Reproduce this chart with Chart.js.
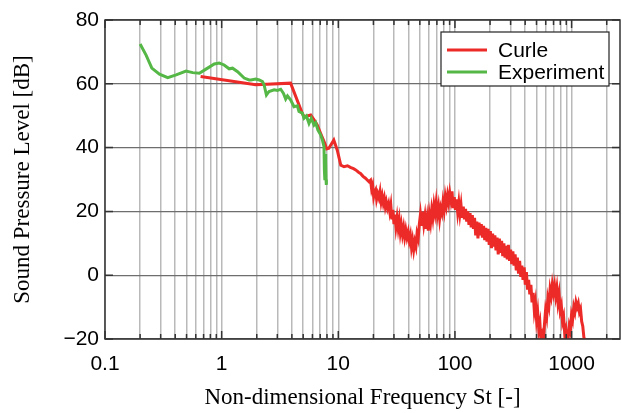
<!DOCTYPE html>
<html>
<head>
<meta charset="utf-8">
<script src="https://cdn.jsdelivr.net/npm/chart.js@4.4.1/dist/chart.umd.min.js"></script>
<style>
  html, body { margin: 0; padding: 0; background: #fff; }
</style>
</head>
<body>
<canvas id="spl" width="622" height="413"></canvas>
<script>
// Curle prediction (St, dB); the noisy part is read as top/bottom of the band
const curleSt = [0.66, 1.96, 3.9, 4.9, 5.1, 5.8, 6.2, 6.6, 7.05, 7.55, 7.95, 8.3, 9.15, 9.8, 10.5, 11.2, 12.0, 12.7,
  13.5, 14.1, 15.0, 15.5, 16.3, 17.1, 18.3, 18.9, 19.3, 19.7, 20.1, 20.5, 20.9, 21.3, 21.8, 22.3, 22.8, 23.3, 23.8,
  24.3, 24.8, 25.3, 25.8, 26.4, 27.0, 27.6, 28.2, 28.8, 29.4, 30.0, 30.6, 31.2, 31.9, 32.6, 33.3, 34.0, 34.7, 35.5,
  36.3, 37.1, 37.9, 38.8, 39.7, 40.6, 41.5, 42.4, 43.3, 44.3, 45.3, 46.3, 47.3, 48.4, 49.5, 50.6, 51.7, 52.9, 54.1,
  55.3, 56.5, 57.8, 59.1, 60.4, 61.8, 63.2, 64.6, 66.1, 67.6, 69.1, 70.7, 72.3, 73.9, 75.6, 77.3, 79.0, 80.8, 82.6,
  84.5, 86.4, 88.3, 90.3, 92.3, 94.4, 96.5, 98.7, 100.9, 103.2, 105.5, 107.9, 110.3, 112.8, 115.3, 117.9, 120.6,
  123.3, 126.1, 128.9, 131.8, 134.8, 137.8, 140.9, 144.1, 147.3, 150.6, 154.0, 157.5, 161.0, 164.6, 168.3, 172.1,
  176.0, 180.0, 184.0, 188.2, 192.4, 196.7, 201.1, 205.7, 210.3, 215.0, 219.9, 224.8, 229.9, 235.0, 240.3, 245.7,
  251.3, 256.9, 262.7, 268.6, 274.6, 280.8, 287.1, 293.6, 300.2, 306.9, 313.8, 320.9, 328.1, 335.5, 343.0, 350.7,
  358.6, 366.7, 374.9, 383.3, 392.0, 400.8, 409.8, 419.0, 428.4, 438.1, 447.9, 458.0, 468.3, 478.8, 489.6, 500.6,
  511.8, 523.4, 535.1, 547.2, 559.5, 572.0, 585.0, 598.1, 611.6, 625.3, 639.4, 653.8, 668.5, 683.5, 698.9, 714.6,
  730.7, 747.2, 764.0, 781.2, 798.8, 816.8, 835.2, 854.0, 873.2, 892.8, 913.0, 933.5, 954.6, 976.0, 998.0, 1020,
  1044, 1067, 1091, 1116, 1141, 1167, 1193, 1220, 1247, 1275, 1300];
const curleDb = [62.3, 59.7, 60.2, 50.8, 49.7, 50.2, 48.7, 47.1, 44.5, 41.9, 39.6, 39.8, 42.4, 39.2, 34.5, 34.0, 34.3, 33.8,
  33.4, 33.0, 32.2, 31.9, 31.0, 30.4, 29.3, 29.8, 27.0, 28.2, 24.6, 26.0, 26.7, 23.8, 25.5, 24.2, 26.2, 23.0, 24.8,
  22.6, 24.1, 21.5, 23.0, 21.0, 22.4, 19.9, 22.0, 17.5, 20.5, 16.0, 19.0, 15.2, 18.0, 14.8, 17.3, 13.5, 15.8, 12.8,
  15.0, 12.0, 14.2, 11.8, 13.5, 10.8, 12.5, 8.8, 11.0, 8.0, 10.5, 9.0, 13.0, 11.5, 16.0, 19.0, 15.5, 19.9, 16.0,
  18.5, 14.5, 17.8, 14.0, 19.0, 16.5, 20.5, 18.0, 22.0, 19.5, 22.8, 19.0, 21.5, 17.8, 21.0, 19.5, 23.0, 20.5, 24.5,
  22.0, 25.0, 22.8, 25.8, 23.5, 26.3, 21.0, 24.5, 20.5, 23.8, 19.8, 22.8, 19.2, 22.0, 18.0, 21.5, 17.5,
  20.8, 16.8, 20.0, 15.8, 19.5, 15.0, 18.8, 14.5, 18.0, 12.5, 16.8, 11.5, 16.5, 12.5, 16.0, 11.8,
  15.5, 11.0, 14.8, 10.5, 14.5, 9.5, 13.8, 8.5, 13.0, 9.0, 12.5, 7.8, 11.8, 6.5, 11.5, 7.0,
  10.8, 6.0, 10.0, 5.5, 9.2, 5.0, 9.5, 4.5, 8.0, 3.5, 7.5, 3.0, 6.5, 1.5, 5.5, 0.5,
  4.5, -0.5, 3.0, -1.5, 2.5, -3.0, 1.0, -4.5, -1.5, -6.0, -3.0, -8.5, -5.5, -11.0, -8.5, -14.0,
  -11.5, -17.0, -15.0, -21.0, -19.0, -21.0, -15.5, -11.0, -13.0, -7.5, -9.5, -4.5, -6.5, -3.0, -5.5, -3.2,
  -6.5, -4.0, -8.5, -6.0, -11.0, -9.5, -14.5, -13.0, -18.5, -17.0, -21.0, -20.0, -16.0, -17.5, -12.5, -14.0,
  -10.0, -11.5, -8.5, -10.0, -8.8, -11.5, -10.5, -14.5, -16.0, -19.5, -21.0];

// Experiment (St, dB)
const expSt = [0.2, 0.225, 0.252, 0.293, 0.345, 0.407, 0.495, 0.565, 0.644, 0.734, 0.865, 0.954, 1.05, 1.16, 1.24, 1.37,
  1.56, 1.72, 1.78, 1.96, 2.10, 2.24, 2.31, 2.42, 2.55, 2.82, 3.01, 3.21, 3.39, 3.54, 3.67, 3.91, 4.17, 4.46, 4.6, 4.92,
  5.09, 5.33, 5.61, 5.87, 6.19, 6.4, 6.69, 7.06, 7.3, 7.54, 7.6, 7.67, 7.75, 7.8, 7.85, 7.9];
const expDb = [72.5, 69.0, 64.9, 63.0, 61.9, 62.8, 64.0, 63.5, 63.3, 64.6, 66.2, 66.5, 65.9, 64.7, 64.9, 63.8,
  61.8, 61.2, 61.2, 61.5, 61.2, 60.7, 59.7, 56.5, 57.6, 58.1, 57.9, 58.3, 57.0, 55.2, 56.2, 54.9, 52.8, 53.1, 51.3, 50.8,
  49.2, 49.9, 47.6, 49.2, 47.1, 47.8, 45.5, 44.0, 42.4, 40.3, 33.0, 29.8, 38.0, 36.1, 30.0, 28.3];

const xGrid = [0.1, 0.2, 0.3, 0.4, 0.5, 0.6, 0.7, 0.8, 0.9, 1, 2, 3, 4, 5, 6, 7, 8, 9, 10, 20, 30, 40, 50, 60, 70, 80, 90,
  100, 200, 300, 400, 500, 600, 700, 800, 900, 1000, 2000];
const xLabels = [0.1, 1, 10, 100, 1000];
const yTicks = [-20, 0, 20, 40, 60, 80];

const toPts = (xs, ys) => xs.map((x, i) => ({ x: x, y: ys[i] }));

// frame + inward tick marks
const framePlugin = {
  id: "frame",
  afterDatasetsDraw(chart) {
    const { ctx, chartArea: a, scales } = chart;
    ctx.save();
    ctx.strokeStyle = "#333";
    ctx.lineWidth = 1.5;
    ctx.beginPath();
    xGrid.forEach(v => {
      const px = scales.x.getPixelForValue(v);
      const len = xLabels.includes(v) ? 8 : 5;
      ctx.moveTo(px, a.top); ctx.lineTo(px, a.top + len);
      ctx.moveTo(px, a.bottom); ctx.lineTo(px, a.bottom - len);
    });
    yTicks.forEach(v => {
      const py = scales.y.getPixelForValue(v);
      ctx.moveTo(a.left, py); ctx.lineTo(a.left + 8, py);
      ctx.moveTo(a.right, py); ctx.lineTo(a.right - 8, py);
    });
    ctx.stroke();
    ctx.strokeRect(a.left, a.top, a.right - a.left, a.bottom - a.top);
    ctx.restore();
  }
};

// legend box in the upper right
const legendPlugin = {
  id: "boxLegend",
  afterDraw(chart) {
    const ctx = chart.ctx;
    const x0 = 441, y0 = 32, w = 168, h = 54;
    ctx.save();
    ctx.fillStyle = "#fff";
    ctx.fillRect(x0, y0, w, h);
    ctx.strokeStyle = "#222";
    ctx.lineWidth = 1.2;
    ctx.strokeRect(x0, y0, w, h);
    ctx.font = "21px 'Liberation Sans', Arial, sans-serif";
    ctx.textBaseline = "middle";
    ["Curle", "Experiment"].forEach((name, i) => {
      const ds = chart.data.datasets.find(d => d.label === name);
      const y = y0 + 18 + i * 22;
      ctx.strokeStyle = ds.borderColor;
      ctx.lineWidth = 3;
      ctx.beginPath();
      ctx.moveTo(x0 + 6, y); ctx.lineTo(x0 + 46, y);
      ctx.stroke();
      ctx.fillStyle = "#000";
      ctx.fillText(name, x0 + 57, y + 1);
    });
    ctx.restore();
  }
};

const ctx = document.getElementById("spl");
const chart = new Chart(ctx, {
  type: "line",
  data: {
    datasets: [
      { label: "Curle", data: toPts(curleSt, curleDb), borderColor: "#ec2b29", borderWidth: 3,
        pointRadius: 0, tension: 0, order: 2 },
      { label: "Experiment", data: toPts(expSt, expDb), borderColor: "#55b846", borderWidth: 3,
        pointRadius: 0, tension: 0, order: 1 }
    ]
  },
  options: {
    responsive: false,
    animation: false,
    devicePixelRatio: 1,
    layout: { padding: { top: 20, right: 2, left: 0, bottom: 0 } },
    plugins: { legend: { display: false }, tooltip: { enabled: false } },
    scales: {
      x: {
        type: "logarithmic",
        min: 0.1,
        max: 2600,
        afterBuildTicks: axis => { axis.ticks = xGrid.map(v => ({ value: v })); },
        afterFit: axis => { axis.height = 74; },
        grid: { color: "#b9b9b9", lineWidth: 1.5, drawTicks: false },
        border: { display: false },
        ticks: {
          autoSkip: false, maxRotation: 0, padding: 13, color: "#000",
          font: { family: "'Liberation Sans', Arial, sans-serif", size: 21 },
          callback: v => xLabels.includes(v) ? String(v) : ""
        },
        title: {
          display: true, text: "Non-dimensional Frequency St [-]", color: "#000",
          font: { family: "'Liberation Serif', 'Times New Roman', serif", size: 23 },
          padding: { top: 1, bottom: 1 }
        }
      },
      y: {
        min: -20,
        max: 80,
        afterBuildTicks: axis => { axis.ticks = yTicks.map(v => ({ value: v })); },
        afterFit: axis => { axis.width = 105; },
        grid: { color: "#6e6e6e", lineWidth: 1.2, drawTicks: false },
        border: { display: false },
        ticks: {
          padding: 6, color: "#000",
          font: { family: "'Liberation Sans', Arial, sans-serif", size: 21 },
          callback: v => v < 0 ? "\u2212" + Math.abs(v) : String(v)
        },
        title: {
          display: true, text: "Sound Pressure Level [dB]", color: "#000",
          font: { family: "'Liberation Serif', 'Times New Roman', serif", size: 23 },
          padding: { top: 9, bottom: 9 }
        }
      }
    }
  },
  plugins: [framePlugin, legendPlugin]
});
</script>
</body>
</html>
